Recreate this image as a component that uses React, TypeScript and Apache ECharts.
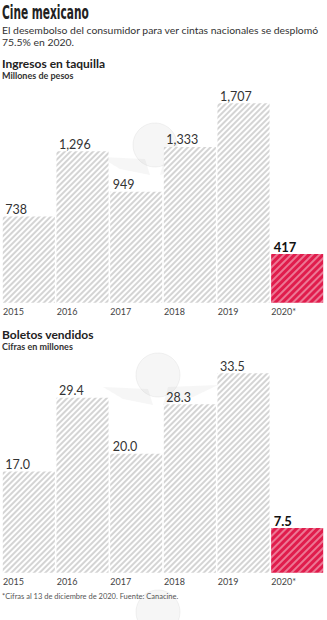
import React, { useEffect, useRef } from "react";
import * as echarts from "echarts";

const years = ["2015", "2016", "2017", "2018", "2019", "2020*"];
const ingresos = [738, 1296, 949, 1333, 1707, 417];
const boletos = [17.0, 29.4, 20.0, 28.3, 33.5, 7.5];

const title = "Cine mexicano";
const subtitleLines = [
  "El desembolso del consumidor para ver cintas nacionales se desplomó",
  "75.5% en 2020.",
];
const chart1Title = "Ingresos en taquilla";
const chart1Sub = "Millones de pesos";
const chart2Title = "Boletos vendidos";
const chart2Sub = "Cifras en millones";
const footnote = "*Cifras al 13 de diciembre de 2020. Fuente: Canacine.";

const FONT = "Lato, 'Open Sans', sans-serif";

const grayDecal = {
  symbol: "rect",
  symbolSize: 1,
  dashArrayX: [1, 0],
  dashArrayY: [1.4, 1.9],
  rotation: -Math.PI / 4,
  color: "#d4d4d4",
};
const redDecal = {
  symbol: "rect",
  symbolSize: 1,
  dashArrayX: [1, 0],
  dashArrayY: [1.2, 2.1],
  rotation: -Math.PI / 4,
  color: "rgba(255,255,255,0.4)",
};

function buildData(values: number[], fmt: (v: number) => string) {
  return values.map((v, i) => {
    const last = i === values.length - 1;
    return {
      value: v,
      itemStyle: {
        color: last ? "#e01c4c" : "#ffffff",
        decal: last ? redDecal : grayDecal,
      },
      label: {
        show: true,
        position: [2.5, -7],
        align: "left",
        verticalAlign: "middle",
        formatter: () => fmt(v),
        fontFamily: FONT,
        fontSize: last ? 13 : 12.5,
        fontWeight: last ? "bold" : "normal",
        color: last ? "#111" : "#333",
      },
    };
  });
}

export default function App() {
  const ref = useRef<HTMLDivElement>(null);
  useEffect(() => {
    document.body.style.margin = "0";
    const chart = echarts.init(ref.current!, undefined, { renderer: "svg" });
    const gridH = 199.4;
    const g1Top = 103.3;
    const g2Top = 373.3;
    const labelAxis = (gi: number) => ({
      type: "category",
      gridIndex: gi,
      data: [...years, ""],
      boundaryGap: false,
      position: "bottom",
      axisLine: { show: false },
      axisTick: { show: false },
      axisLabel: {
        interval: 0,
        align: "left",
        margin: 4,
        padding: [0, 0, 0, 1],
        fontFamily: FONT,
        fontSize: 9,
        color: "#444",
      },
    });
    const barAxis = (gi: number) => ({
      type: "category",
      gridIndex: gi,
      data: years,
      show: false,
    });
    const wm = "rgba(160,160,160,0.09)";
    const watermark = (cx: number, cy: number) => ({
      type: "group",
      z: 100,
      silent: true,
      children: [
        {
          type: "circle",
          shape: { cx, cy, r: 22 },
          style: { fill: wm, stroke: "rgba(160,160,160,0.12)", lineWidth: 1 },
        },
        {
          type: "polygon",
          shape: {
            points: [
              [cx - 55, cy + 12],
              [cx - 10, cy + 14],
              [cx - 5, cy + 30],
              [cx - 35, cy + 24],
            ],
          },
          style: { fill: wm },
        },
        {
          type: "polygon",
          shape: {
            points: [
              [cx + 60, cy + 10],
              [cx + 10, cy + 12],
              [cx + 5, cy + 30],
              [cx + 35, cy + 22],
            ],
          },
          style: { fill: wm },
        },
      ],
    });
    chart.setOption({
      animation: false,
      grid: [
        { left: 1, top: g1Top, width: 325.5, height: gridH },
        { left: 1, top: g2Top, width: 325.5, height: gridH },
      ],
      xAxis: [barAxis(0), barAxis(1), labelAxis(0), labelAxis(1)],
      yAxis: [
        { type: "value", gridIndex: 0, min: 0, max: 1707, show: false },
        { type: "value", gridIndex: 1, min: 0, max: 33.5, show: false },
      ],
      series: [
        {
          type: "bar",
          xAxisIndex: 0,
          yAxisIndex: 0,
          barCategoryGap: "3%",
          data: buildData(ingresos, (v) => v.toLocaleString("en-US")),
        },
        {
          type: "bar",
          xAxisIndex: 1,
          yAxisIndex: 1,
          barCategoryGap: "3%",
          data: buildData(boletos, (v) => v.toFixed(1)),
        },
      ],
      graphic: [
        watermark(155, 145),
        watermark(158, 375),
        watermark(158, 612),
        {
          type: "text",
          x: 2,
          y: 3,
          scaleX: 0.62,
          style: {
            text: title,
            font: "bold 19px 'Liberation Sans Narrow', 'DejaVu Sans Condensed', sans-serif",
            fill: "#222",
          },
        },
        {
          type: "text",
          left: 2,
          top: 24.5,
          style: {
            text: subtitleLines.join("\n"),
            font: `10.4px ${FONT}`,
            lineHeight: 11.7,
            fill: "#333",
          },
        },
        {
          type: "text",
          left: 2,
          top: 57,
          style: { text: chart1Title, font: `bold 12px ${FONT}`, fill: "#222" },
        },
        {
          type: "text",
          left: 2,
          top: 71,
          style: { text: chart1Sub, font: `bold 9px ${FONT}`, fill: "#333" },
        },
        {
          type: "text",
          left: 2,
          top: 328,
          style: { text: chart2Title, font: `bold 12px ${FONT}`, fill: "#222" },
        },
        {
          type: "text",
          left: 2,
          top: 342,
          style: { text: chart2Sub, font: `bold 9px ${FONT}`, fill: "#333" },
        },
        {
          type: "text",
          left: 2,
          top: 592,
          style: { text: footnote, font: `7.5px ${FONT}`, fill: "#555" },
        },
      ],
    });
    return () => chart.dispose();
  }, []);
  return <div ref={ref} style={{ width: 327, height: 620 }} />;
}
